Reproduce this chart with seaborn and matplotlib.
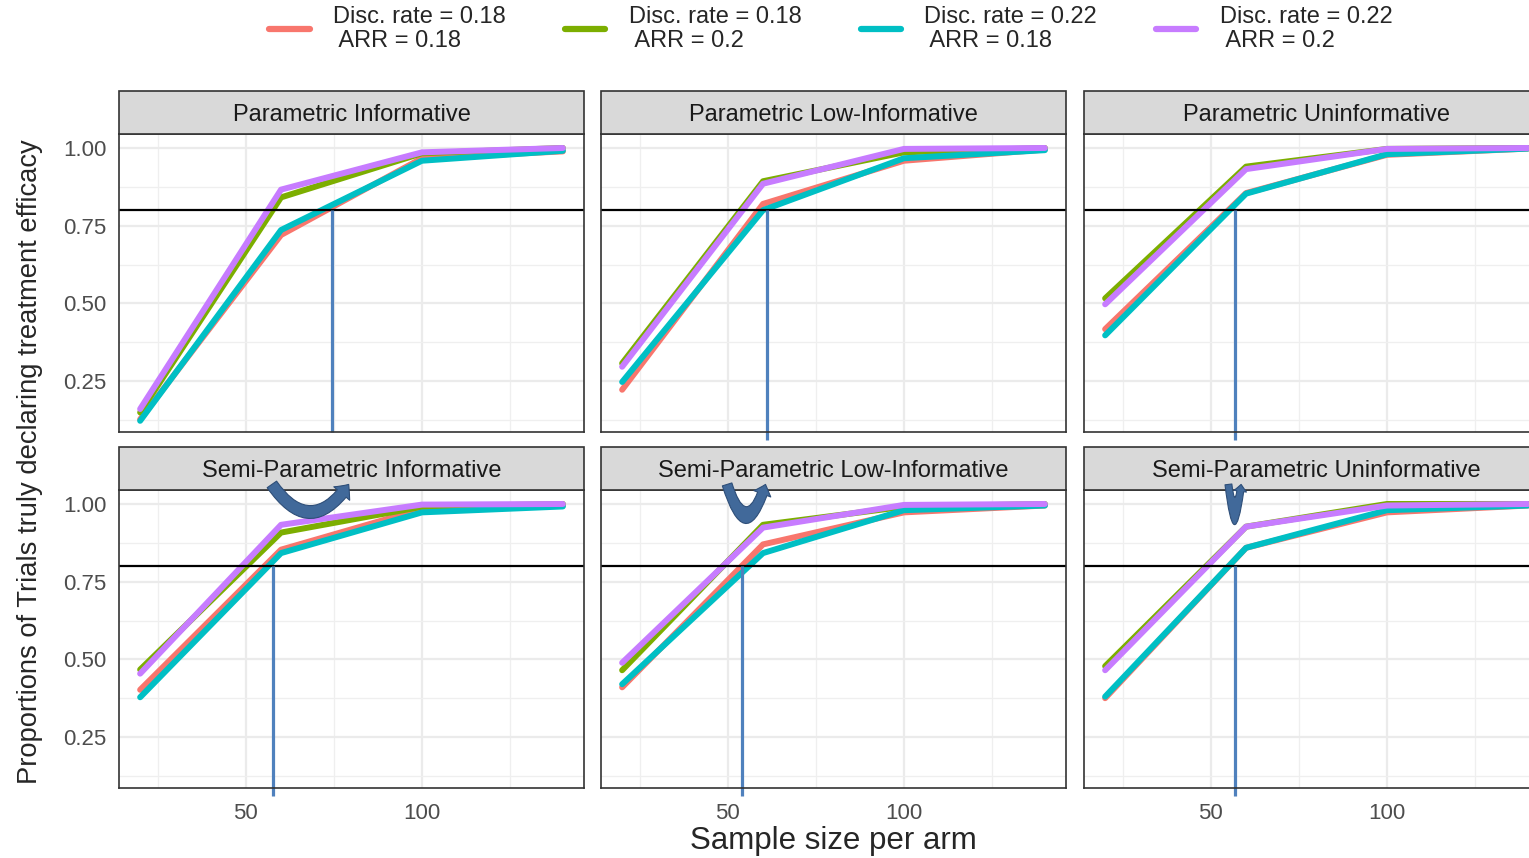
import numpy as np
import pandas as pd
import matplotlib
matplotlib.use("Agg")
import matplotlib.pyplot as plt
from matplotlib.patches import Rectangle, FancyArrowPatch
from matplotlib.lines import Line2D
import seaborn as sns

# ---------------- data ----------------
sample_size = [20, 60, 100, 140]
panels = ["Parametric Informative", "Parametric Low-Informative", "Parametric Uninformative",
          "Semi-Parametric Informative", "Semi-Parametric Low-Informative", "Semi-Parametric Uninformative"]
scenarios = ["Disc. rate = 0.18\n ARR = 0.18", "Disc. rate = 0.18\n ARR = 0.2",
             "Disc. rate = 0.22\n ARR = 0.18", "Disc. rate = 0.22\n ARR = 0.2"]

p_inf_red = [0.127, 0.72, 0.967, 0.989]
p_inf_green = [0.149, 0.841, 0.983, 1.0]
p_inf_cyan = [0.122, 0.736, 0.959, 0.991]
p_inf_purple = [0.16, 0.866, 0.986, 1.0]

p_low_red = [0.222, 0.82, 0.959, 0.995]
p_low_green = [0.307, 0.893, 0.986, 1.0]
p_low_cyan = [0.247, 0.80, 0.967, 0.993]
p_low_purple = [0.296, 0.885, 0.997, 1.0]

p_uni_red = [0.417, 0.855, 0.978, 0.998]
p_uni_green = [0.516, 0.94, 0.997, 1.0]
p_uni_cyan = [0.397, 0.853, 0.98, 0.998]
p_uni_purple = [0.497, 0.932, 0.997, 1.0]

s_inf_red = [0.402, 0.853, 0.984, 0.995]
s_inf_green = [0.467, 0.908, 0.991, 1.0]
s_inf_cyan = [0.378, 0.842, 0.973, 0.992]
s_inf_purple = [0.454, 0.933, 0.998, 1.0]

s_low_red = [0.41, 0.87, 0.973, 0.995]
s_low_green = [0.465, 0.933, 0.991, 1.0]
s_low_cyan = [0.42, 0.842, 0.98, 0.995]
s_low_purple = [0.489, 0.924, 0.997, 1.0]

s_uni_red = [0.375, 0.859, 0.973, 0.995]
s_uni_green = [0.478, 0.927, 1.0, 1.0]
s_uni_cyan = [0.38, 0.859, 0.98, 0.995]
s_uni_purple = [0.465, 0.927, 0.995, 1.0]

target_power = 0.8
required_n = [74.6, 61.0, 56.8, 57.6, 54.1, 56.8]

# curved-arrow annotations (bottom row): start / end sample size
arrow_start = [57.4, 49.8, 55.0]
arrow_end = [79.2, 60.7, 58.6]

series = {
    panels[0]: [p_inf_red, p_inf_green, p_inf_cyan, p_inf_purple],
    panels[1]: [p_low_red, p_low_green, p_low_cyan, p_low_purple],
    panels[2]: [p_uni_red, p_uni_green, p_uni_cyan, p_uni_purple],
    panels[3]: [s_inf_red, s_inf_green, s_inf_cyan, s_inf_purple],
    panels[4]: [s_low_red, s_low_green, s_low_cyan, s_low_purple],
    panels[5]: [s_uni_red, s_uni_green, s_uni_cyan, s_uni_purple],
}
rows = []
for pan, vals in series.items():
    for sc, v in zip(scenarios, vals):
        for n, p in zip(sample_size, v):
            rows.append((pan, sc, n, p))
df = pd.DataFrame(rows, columns=["panel", "scenario", "n", "prop"])

palette = dict(zip(scenarios, ["#F8766D", "#7CAE00", "#00BFC4", "#C77CFF"]))

# ---------------- style ----------------
sns.set_theme(style="white")
plt.rcParams["font.family"] = ["Liberation Sans", "DejaVu Sans"]

W, H = 1529, 858
fig = plt.figure(figsize=(W / 100, H / 100), dpi=100)

col_x = [119, 601, 1084]
row_y = [134, 490]
pw, ph = 465, 298
strip_h = 43

XLIM = (14, 146)
YLIM = (0.086, 1.045)

axes = []
for i, pan in enumerate(panels):
    r, c = divmod(i, 3)
    x0 = col_x[c]
    y0 = row_y[r]
    ax = fig.add_axes([x0 / W, 1 - (y0 + ph) / H, pw / W, ph / H])
    axes.append(ax)
    ax.set_facecolor("white")
    ax.set_xlim(*XLIM)
    ax.set_ylim(*YLIM)
    ax.set_xticks([50, 100])
    ax.set_xticks([25, 75, 125], minor=True)
    ax.set_yticks([0.25, 0.5, 0.75, 1.0])
    ax.set_yticks([0.125, 0.375, 0.625, 0.875], minor=True)
    ax.grid(which="major", color="#EBEBEB", lw=1.6, zorder=0)
    ax.grid(which="minor", color="#EFEFEF", lw=0.9, zorder=0)
    ax.set_axisbelow(True)
    for s in ax.spines.values():
        s.set_color("#333333")
        s.set_linewidth(1.2)
        s.set_zorder(5)

    sub = df[df["panel"] == pan]
    sns.lineplot(data=sub, x="n", y="prop", hue="scenario", hue_order=scenarios,
                 palette=palette, lw=4.3, legend=False, ax=ax, estimator=None, sort=False)
    ax.axhline(target_power, color="black", lw=1.6, zorder=3)
    vb = YLIM[0] - (0.0 if i == 0 else 0.025)
    ax.vlines(required_n[i], vb, target_power, color="#4F81BD", lw=2.3, zorder=4, clip_on=False)

    ax.set_xlabel("")
    ax.set_ylabel("")
    ax.tick_params(axis="both", which="major", labelsize=16, labelcolor="#4D4D4D",
                   color="#333333", length=5, width=1.2, pad=4)
    ax.tick_params(axis="x", pad=6)
    ax.tick_params(which="minor", length=0)
    if r == 0:
        ax.tick_params(axis="x", bottom=False, labelbottom=False)
    if c != 0:
        ax.tick_params(axis="y", left=False, labelleft=False)
    ax.set_yticklabels(["0.25", "0.50", "0.75", "1.00"])

    # strip
    rect = Rectangle((0, 1), 1, strip_h / ph, transform=ax.transAxes, facecolor="#D9D9D9",
                     edgecolor="#333333", lw=1.2, clip_on=False, zorder=6)
    ax.add_patch(rect)
    ax.text(0.5, 1 + (strip_h / 2 - 2.5) / ph, pan, transform=ax.transAxes, ha="center", va="center",
            fontsize=17, color="#1A1A1A", zorder=7)

# curved arrows over the bottom strips
arrow_rad = [0.72, 1.6, 4.2]
arrow_scale = [15, 13, 9]
for k in range(3):
    ax = axes[3 + k]
    arr = FancyArrowPatch((arrow_start[k], 1.063), (arrow_end[k], 1.063),
                          connectionstyle=f"arc3,rad={arrow_rad[k]}",
                          arrowstyle="simple,head_length=0.55,head_width=1.0,tail_width=0.55",
                          mutation_scale=arrow_scale[k], transform=ax.transData,
                          facecolor="#41699A", edgecolor="#2E4E78", lw=0.8,
                          shrinkA=0, shrinkB=0, clip_on=False, zorder=8)
    ax.add_patch(arr)

# axis titles
fig.text(833 / W, 1 - 841 / H, "Sample size per arm", ha="center", va="center", fontsize=22.5)
fig.text(30 / W, 1 - 462 / H, "Proportions of Trials truly declaring treatment efficacy",
         ha="center", va="center", rotation=90, fontsize=19.7)

# legend
handles = [Line2D([0], [0], color=palette[s], lw=4.5) for s in scenarios]
leg = fig.legend(handles, scenarios, loc="center", bbox_to_anchor=(831 / W, 1 - 29 / H), ncol=4,
                 frameon=False, handlelength=1.7, handletextpad=1.0,
                 columnspacing=2.5, prop={"size": 17})
for t in leg.get_texts():
    t.set_linespacing(1.1)

fig.savefig("out.png", dpi=100)
